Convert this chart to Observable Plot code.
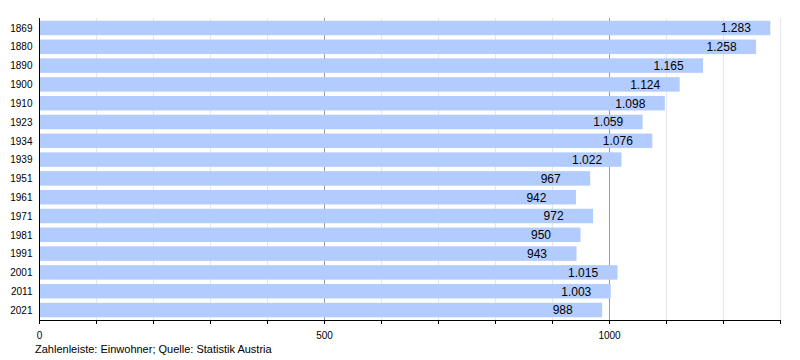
<!DOCTYPE html>
<html>
<head>
<meta charset="utf-8">
<script src="https://cdn.jsdelivr.net/npm/d3@7"></script>
<script src="https://cdn.jsdelivr.net/npm/@observablehq/plot@0.6"></script>
<style>
  body { margin: 0; background: #fff; font-family: "Liberation Sans", Arial, sans-serif; }
  #caption { font-size: 11px; color: #000; padding-left: 35px; margin-top: 3px; line-height: 13px; }
</style>
</head>
<body>
<div id="chart"></div>
<div id="caption">Zahlenleiste: Einwohner; Quelle: Statistik Austria</div>
<script>
const years = ["1869","1880","1890","1900","1910","1923","1934","1939","1951","1961","1971","1981","1991","2001","2011","2021"];
const population = [1283, 1258, 1165, 1124, 1098, 1059, 1076, 1022, 967, 942, 972, 950, 943, 1015, 1003, 988];
const minorTicks = d3.range(0, 1301, 100);
const majorTicks = [500, 1000];
const tickLabels = {0: "0", 500: "500", 1000: "1000"};

const data = years.map((y, i) => ({year: y, value: population[i]}));
const fmt = v => v.toLocaleString("de-DE");

const chart = Plot.plot({
  width: 800,
  height: 340,
  marginLeft: 39,
  marginRight: 20,
  marginTop: 18,
  marginBottom: 20,
  style: {fontFamily: "Liberation Sans, Arial, sans-serif", background: "#fff", color: "#000"},
  x: {domain: [0, 1300]},
  y: {domain: years, paddingInner: 0.229, paddingOuter: 0.146, round: false},
  marks: [
    Plot.ruleX(minorTicks.filter(t => t > 0 && !majorTicks.includes(t)), {stroke: "#e6e6e6", strokeWidth: 1}),
    Plot.ruleX(majorTicks, {stroke: "#999999", strokeWidth: 1}),
    Plot.barX(data, {y: "year", x: "value", fill: "#b3ccff"}),
    Plot.text(data, {y: "year", x: "value", text: d => fmt(d.value), textAnchor: "start", dx: -50, fontSize: 12, fill: "#000"}),
    Plot.ruleX([0], {stroke: "#000", strokeWidth: 1}),
    Plot.frame({anchor: "bottom", stroke: "#000"}),
    Plot.axisX({ticks: minorTicks, tickFormat: t => tickLabels[t] ?? "", tickSize: 4, tickPadding: 7, fontSize: 10, stroke: "#000", label: null}),
    Plot.axisY({tickSize: 0, tickPadding: 7, fontSize: 10, label: null})
  ]
});
document.getElementById("chart").appendChild(chart);
</script>
</body>
</html>
